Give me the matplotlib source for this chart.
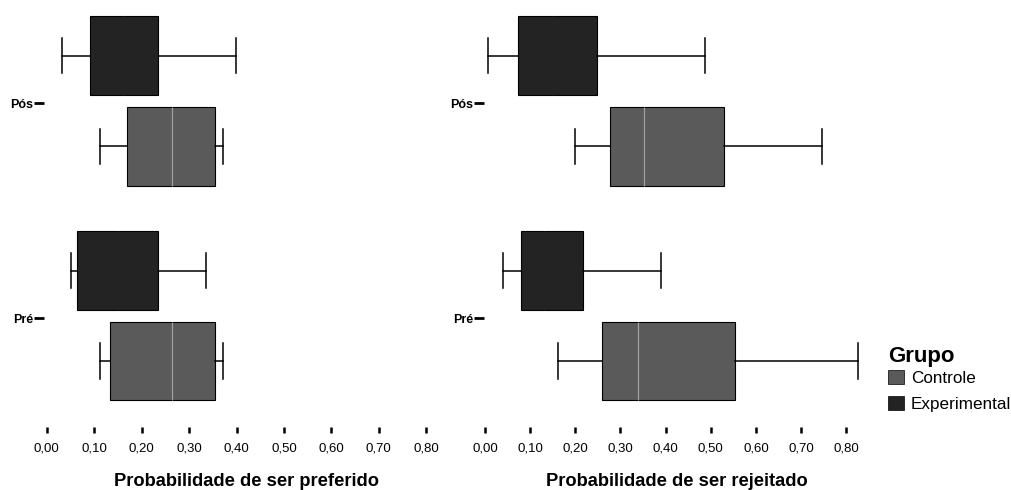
import numpy as np
import matplotlib.pyplot as plt
from matplotlib.patches import Patch

plt.rcParams['font.family'] = ['Liberation Sans', 'DejaVu Sans']

# dados
grupos = ['Pré', 'Pós']

# Probabilidade de ser preferido
pref_ctrl_lo = [0.112, 0.113]
pref_ctrl_q1 = [0.133, 0.169]
pref_ctrl_med = [0.263, 0.263]
pref_ctrl_q3 = [0.354, 0.354]
pref_ctrl_hi = [0.372, 0.372]

pref_exp_lo = [0.050, 0.032]
pref_exp_q1 = [0.064, 0.091]
pref_exp_med = [0.15, 0.16]
pref_exp_q3 = [0.235, 0.234]
pref_exp_hi = [0.335, 0.399]

# Probabilidade de ser rejeitado
rej_ctrl_lo = [0.161, 0.200]
rej_ctrl_q1 = [0.260, 0.277]
rej_ctrl_med = [0.339, 0.352]
rej_ctrl_q3 = [0.553, 0.529]
rej_ctrl_hi = [0.825, 0.745]

rej_exp_lo = [0.039, 0.006]
rej_exp_q1 = [0.080, 0.074]
rej_exp_med = [0.13, 0.15]
rej_exp_q3 = [0.217, 0.248]
rej_exp_hi = [0.389, 0.488]

ticks = np.arange(0, 0.81, 0.1)
tick_labels = ['0,00', '0,10', '0,20', '0,30', '0,40', '0,50', '0,60', '0,70', '0,80']

cor_ctrl = '#5a5a5a'
cor_exp = '#232323'


def stats(lo, q1, med, q3, hi):
    return [dict(whislo=lo[i], q1=q1[i], med=med[i], q3=q3[i], whishi=hi[i], fliers=[])
            for i in range(len(lo))]


def desenha(ax, ctrl, exp, titulo):
    y = np.arange(len(grupos))
    for st, off, cor, medcor in [(ctrl, -0.20, cor_ctrl, '#a0a0a0'), (exp, 0.22, cor_exp, cor_exp)]:
        ax.bxp(st, positions=y + off, widths=0.367, vert=False, patch_artist=True,
               showfliers=False, capwidths=0.163,
               boxprops=dict(facecolor=cor, edgecolor='black', linewidth=0.8),
               whiskerprops=dict(color='black', linewidth=1.1),
               capprops=dict(color='black', linewidth=1.1),
               medianprops=dict(color=medcor, linewidth=0.9))
    ax.set_yticks(y)
    ax.set_yticklabels(grupos, fontsize=9, fontweight='bold')
    ax.set_ylim(-0.507, 1.433)
    ax.set_xticks(ticks)
    ax.set_xticklabels(tick_labels, fontsize=9.5)
    ax.tick_params(axis='x', length=4.3, width=1.8, pad=6.5)
    ax.tick_params(axis='y', length=7, width=2, pad=0.5)
    for s in ax.spines.values():
        s.set_visible(False)
    ax.set_xlabel(titulo, fontsize=13.2, fontweight='bold', labelpad=13.5)


fig = plt.figure(figsize=(10.12, 4.9), dpi=100)
W, H = 1012, 490
ax1 = fig.add_axes([44 / W, (H - 427) / H, 406 / W, 417 / H])
ax1.set_xlim(-0.006, 0.85)
desenha(ax1, stats(pref_ctrl_lo, pref_ctrl_q1, pref_ctrl_med, pref_ctrl_q3, pref_ctrl_hi),
        stats(pref_exp_lo, pref_exp_q1, pref_exp_med, pref_exp_q3, pref_exp_hi),
        'Probabilidade de ser preferido')

ax2 = fig.add_axes([484 / W, (H - 427) / H, 385 / W, 417 / H])
ax2.set_xlim(-0.002, 0.85)
desenha(ax2, stats(rej_ctrl_lo, rej_ctrl_q1, rej_ctrl_med, rej_ctrl_q3, rej_ctrl_hi),
        stats(rej_exp_lo, rej_exp_q1, rej_exp_med, rej_exp_q3, rej_exp_hi),
        'Probabilidade de ser rejeitado')

handles = [Patch(facecolor=cor_ctrl, edgecolor='black', linewidth=0.5, label='Controle'),
           Patch(facecolor=cor_exp, edgecolor='black', linewidth=0.5, label='Experimental')]
leg = fig.legend(handles=handles, title='Grupo', loc='upper left',
                 bbox_to_anchor=(888 / W, 1 - 346 / H), frameon=False,
                 handlelength=0.95, handleheight=0.9, handletextpad=0.4,
                 labelspacing=0.6, borderaxespad=0, borderpad=0,
                 fontsize=12.3, alignment='left',
                 title_fontproperties=dict(weight='bold', size=16))
leg._legend_box.sep = 2

fig.savefig('out.png', dpi=100)
